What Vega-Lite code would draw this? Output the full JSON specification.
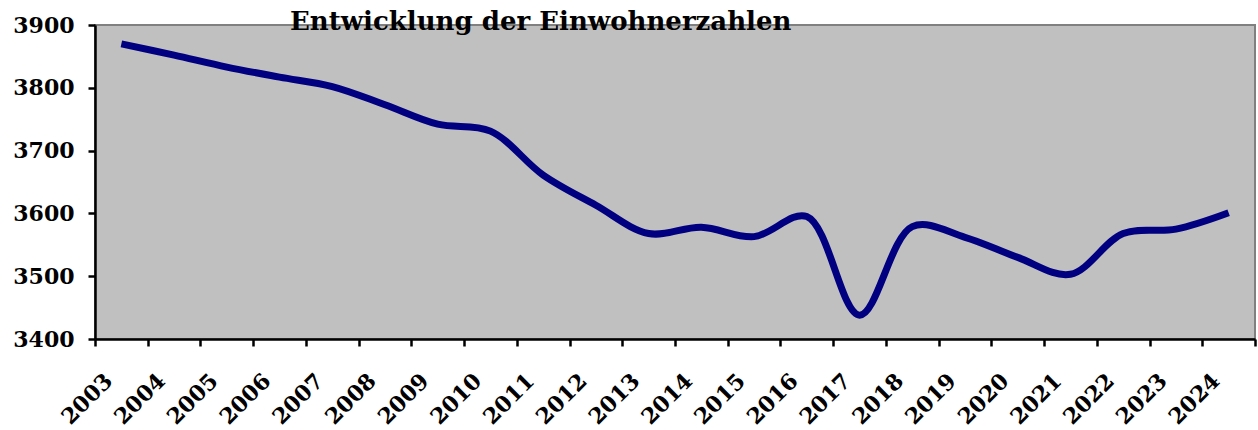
{
  "$schema": "https://vega.github.io/schema/vega-lite/v6.json",
  "width": 1160,
  "height": 314,
  "autosize": {"type": "none"},
  "padding": {"left": 95, "top": 25, "right": 3, "bottom": 91},
  "background": "white",
  "title": {
    "text": "Entwicklung der Einwohnerzahlen",
    "font": "DejaVu Serif",
    "fontSize": 26,
    "fontWeight": "bold",
    "color": "black",
    "anchor": "start",
    "frame": "group",
    "baseline": "alphabetic",
    "dx": 195,
    "offset": -42
  },
  "config": {
    "view": {"fill": "#c0c0c0", "stroke": "#808080", "strokeWidth": 2},
    "axis": {
      "labelFont": "DejaVu Serif",
      "labelFontWeight": "bold",
      "labelFontSize": 22,
      "labelColor": "black",
      "domainColor": "black",
      "domainWidth": 2.5,
      "tickColor": "black",
      "tickWidth": 2.5,
      "tickSize": 7,
      "grid": false,
      "title": null
    }
  },
  "data": {
    "values": [
      {"Jahr": "2003", "Einwohner": 3870},
      {"Jahr": "2004", "Einwohner": 3852},
      {"Jahr": "2005", "Einwohner": 3833},
      {"Jahr": "2006", "Einwohner": 3817},
      {"Jahr": "2007", "Einwohner": 3802},
      {"Jahr": "2008", "Einwohner": 3773},
      {"Jahr": "2009", "Einwohner": 3742},
      {"Jahr": "2010", "Einwohner": 3731},
      {"Jahr": "2011", "Einwohner": 3661},
      {"Jahr": "2012", "Einwohner": 3613},
      {"Jahr": "2013", "Einwohner": 3568},
      {"Jahr": "2014", "Einwohner": 3578},
      {"Jahr": "2015", "Einwohner": 3563},
      {"Jahr": "2016", "Einwohner": 3595},
      {"Jahr": "2017", "Einwohner": 3438},
      {"Jahr": "2018", "Einwohner": 3579},
      {"Jahr": "2019", "Einwohner": 3562},
      {"Jahr": "2020", "Einwohner": 3530},
      {"Jahr": "2021", "Einwohner": 3503},
      {"Jahr": "2022", "Einwohner": 3568},
      {"Jahr": "2023", "Einwohner": 3575},
      {"Jahr": "2024", "Einwohner": 3601}
    ]
  },
  "mark": {"type": "line", "color": "#000080", "strokeWidth": 7, "interpolate": "catmull-rom", "strokeCap": "butt"},
  "encoding": {
    "x": {
      "field": "Jahr",
      "type": "ordinal",
      "bandPosition": 0.5,
      "scale": {"type": "band", "paddingInner": 0, "paddingOuter": 0},
      "axis": {"labelAngle": -45, "tickBand": "extent", "labelAlign": "right", "labelBaseline": "middle", "labelPadding": 31, "labelOffset": -13, "labelFontSize": 22}
    },
    "y": {
      "field": "Einwohner",
      "type": "quantitative",
      "scale": {"domain": [3400, 3900], "zero": false, "nice": false},
      "axis": {"values": [3400, 3500, 3600, 3700, 3800, 3900], "labelPadding": 14, "format": "d"}
    }
  }
}
